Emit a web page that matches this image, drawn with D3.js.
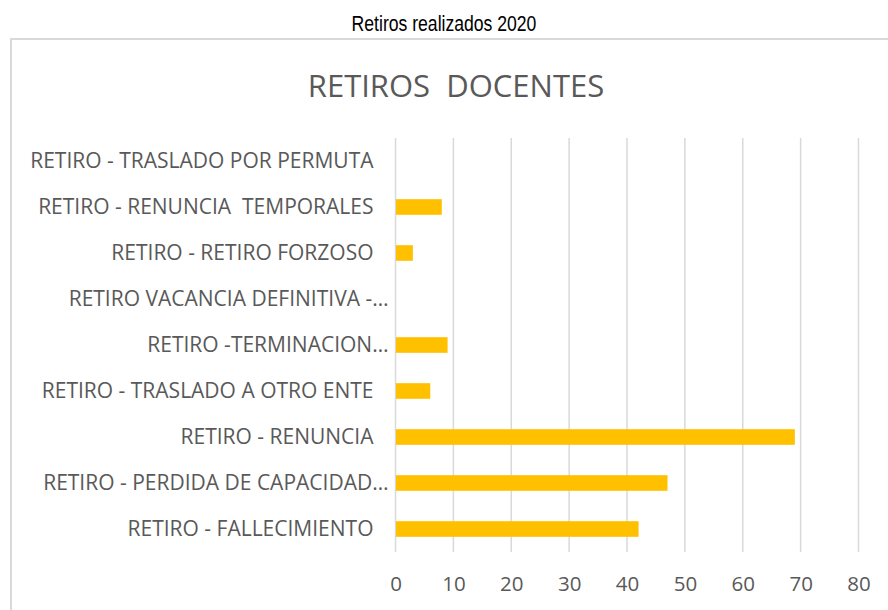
<!DOCTYPE html>
<html>
<head>
<meta charset="utf-8">
<script src="https://cdn.jsdelivr.net/npm/d3@7"></script>
<style>
  body { margin: 0; background: #fff; }
  svg { display: block; }
  .cat text { font-family: "Open Sans", sans-serif; font-size: 21px; fill: #595959; }
  .val text { font-family: "Open Sans", sans-serif; font-size: 20.5px; fill: #595959; }
</style>
</head>
<body>
<svg id="chart"></svg>
<script>
// categorias (de abajo hacia arriba como en Excel)
var categorias = [
    "RETIRO - FALLECIMIENTO",
    "RETIRO - PERDIDA DE CAPACIDAD…",
    "RETIRO - RENUNCIA",
    "RETIRO - TRASLADO A OTRO ENTE",
    "RETIRO -TERMINACION…",
    "RETIRO VACANCIA DEFINITIVA -…",
    "RETIRO - RETIRO FORZOSO",
    "RETIRO - RENUNCIA  TEMPORALES",
    "RETIRO - TRASLADO POR PERMUTA"
]
var retiros = [42, 47, 69, 6, 9, 0, 3, 8, 0]
var ticks = [0, 10, 20, 30, 40, 50, 60, 70, 80]

var screen = {width: 888, height: 610}
var margins = {left: 395.5, right: 29.5, top: 138, bottom: 58}
var graph = {
    width: screen.width - margins.left - margins.right,
    height: screen.height - margins.top - margins.bottom
}

var svg = d3.select("#chart")
    .attr("width", screen.width)
    .attr("height", screen.height)

// marco del area del grafico
svg.append("rect")
    .attr("x", 11)
    .attr("y", 39)
    .attr("width", 900)
    .attr("height", 600)
    .attr("fill", "none")
    .attr("stroke", "#d9d9d9")
    .attr("stroke-width", 2)

// titulo superior (Arial Narrow aproximado)
svg.append("g")
    .attr("transform", "translate(444,31) scale(0.8,1)")
    .append("text")
    .text("Retiros realizados 2020")
    .attr("text-anchor", "middle")
    .style("font-family", "'Liberation Sans', Arial, sans-serif")
    .style("font-size", "22px")
    .attr("fill", "#000")

svg.append("text")
    .text("RETIROS  DOCENTES")
    .attr("x", 456)
    .attr("y", 97)
    .attr("text-anchor", "middle")
    .style("white-space", "pre")
    .style("font-family", "'Open Sans', sans-serif")
    .style("font-size", "31px")
    .attr("fill", "#595959")

var target = svg.append("g")
    .attr("transform", "translate(" + margins.left + "," + margins.top + ")")

var xScale = d3.scaleLinear()
    .domain([0, 80])
    .range([0, graph.width])

var yScale = d3.scaleBand()
    .domain(categorias)
    .range([graph.height, 0])
    .paddingInner(0.66)
    .paddingOuter(0.33)

// lineas de division verticales
target.append("g")
    .selectAll("line")
    .data(ticks)
    .enter()
    .append("line")
    .attr("x1", function (d) { return xScale(d) })
    .attr("x2", function (d) { return xScale(d) })
    .attr("y1", 0)
    .attr("y2", graph.height)
    .attr("stroke", "#d9d9d9")
    .attr("stroke-width", 1.5)

target.selectAll("rect.bar")
    .data(retiros)
    .enter()
    .append("rect")
    .classed("bar", true)
    .attr("x", xScale(0) + 0.5)
    .attr("y", function (d, i) { return yScale(categorias[i]) })
    .attr("width", function (d) { return Math.max(0, xScale(d) - xScale(0) - 0.5) })
    .attr("height", yScale.bandwidth())
    .attr("fill", "#ffc000")

// eje de valores
var xAxis = d3.axisBottom(xScale)
    .tickValues(ticks)
    .tickSize(0)
    .tickPadding(24)

var gx = target.append("g")
    .classed("val", true)
    .attr("transform", "translate(0," + graph.height + ")")
    .call(xAxis)
gx.select(".domain").remove()
gx.selectAll("text").attr("font-family", null).attr("font-size", null)

// eje de categorias
var yAxis = d3.axisLeft(yScale)
    .tickSize(0)
    .tickPadding(22)

var gy = target.append("g")
    .classed("cat", true)
    .call(yAxis)
gy.select(".domain").remove()
gy.selectAll("text")
    .attr("font-family", null)
    .attr("font-size", null)
    .style("white-space", "pre")
    .attr("dx", function (d) { return d.slice(-1) == "…" ? 15 : 0 })
</script>
</body>
</html>
